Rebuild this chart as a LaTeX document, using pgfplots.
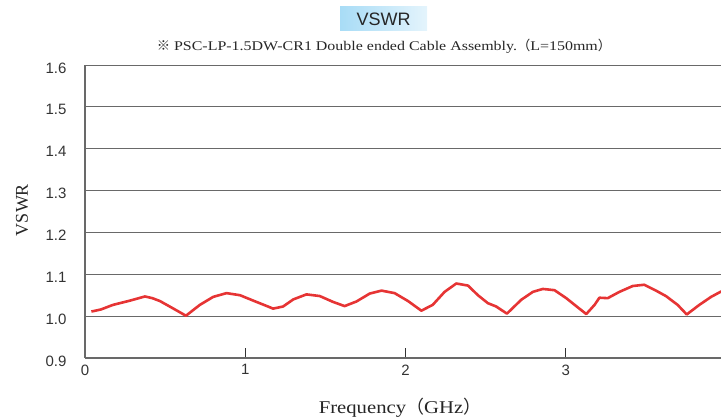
\documentclass[border=0pt]{standalone}
\usepackage{fontspec}
\setmainfont{Liberation Serif}
\setsansfont{Liberation Sans}
\newfontfamily\cjk{Noto Sans CJK JP}
\usepackage{pgfplots}
\pgfplotsset{compat=1.18}

\definecolor{vline}{RGB}{230,52,52}
\definecolor{gridc}{RGB}{105,105,105}
\definecolor{boxl}{RGB}{168,220,246}
\definecolor{boxr}{RGB}{228,244,252}

\begin{document}
\begin{tikzpicture}[x=1pt,y=1pt]
\begin{axis}[
    at={(85pt,60pt)}, anchor=south west,
    scale only axis,
    width=641pt, height=293pt,
    xmin=0, xmax=4,
    ymin=0.9, ymax=1.6,
    axis x line=bottom,
    axis y line=left,
    axis line style={-, draw=gridc, line width=1.2pt},
    xtick={0,1,2,3,4},
    ytick={0.9,1.0,1.1,1.2,1.3,1.4,1.5,1.6},
    yticklabels={0.9,1.0,1.1,1.2,1.3,1.4,1.5,1.6},
    xtick align=inside,
    major tick length=10pt,
    xtick style={draw=black!80, line width=0.6pt},
    ytick style={draw=none},
    ymajorgrids=true,
    grid style={draw=gridc, line width=1pt},
    /pgf/number format/assume math mode=true,
    ticklabel style={font=\sffamily\fontsize{15}{17}\selectfont, text=black!80},
    yticklabel style={xshift=-10pt, yshift=-3pt},
    xticklabel style={yshift=-3pt},
    clip=false,
]
\addplot[color=vline, line width=2.6pt, line join=round] coordinates {
(0.04,1.011) (0.10,1.016) (0.175,1.027) (0.28,1.037) (0.374,1.047)
(0.42,1.043) (0.468,1.036) (0.561,1.016) (0.63,1.001) (0.717,1.027)
(0.80,1.046) (0.883,1.055) (0.967,1.050) (1.07,1.034) (1.174,1.018)
(1.236,1.023) (1.30,1.040) (1.382,1.052) (1.465,1.048) (1.548,1.034)
(1.62,1.024) (1.694,1.035) (1.777,1.054) (1.85,1.061) (1.932,1.055)
(2.016,1.036) (2.099,1.013) (2.17,1.027) (2.244,1.058) (2.317,1.078)
(2.39,1.073) (2.452,1.050) (2.514,1.031) (2.566,1.023) (2.633,1.006)
(2.722,1.039) (2.795,1.058) (2.857,1.065) (2.93,1.062) (3.003,1.043)
(3.065,1.024) (3.128,1.005) (3.18,1.027) (3.21,1.044) (3.262,1.043)
(3.335,1.058) (3.418,1.072) (3.49,1.075) (3.563,1.061) (3.625,1.048)
(3.698,1.027) (3.755,1.004) (3.834,1.027) (3.907,1.046) (3.965,1.058)
(4.0,1.064)
};
\end{axis}

% title box
\shade[left color=boxl, right color=boxr] (340,387) rectangle (427,411);
\node[font=\sffamily\fontsize{18}{20}\selectfont, text=black!85] at (383.5,399) {VSWR};
% subtitle
\node[font=\fontsize{13.3}{15}\selectfont\addfontfeature{FakeStretch=1.2}, text=black!85] at (384,372)
  {{\cjk ※} PSC-LP-1.5DW-CR1 Double ended Cable Assembly.{\cjk （}L=150mm{\cjk ）}};
% axis titles
\node[font=\fontsize{18}{20}\selectfont\addfontfeature{FakeStretch=1.15}, text=black!85] at (400,10) {Frequency{\cjk （}GHz{\cjk ）}};
\node[font=\fontsize{18}{20}\selectfont, text=black!85, rotate=90] at (22,208) {VSWR};

\pgfresetboundingbox
\useasboundingbox (0,0) rectangle (721,418);
\end{tikzpicture}
\end{document}
